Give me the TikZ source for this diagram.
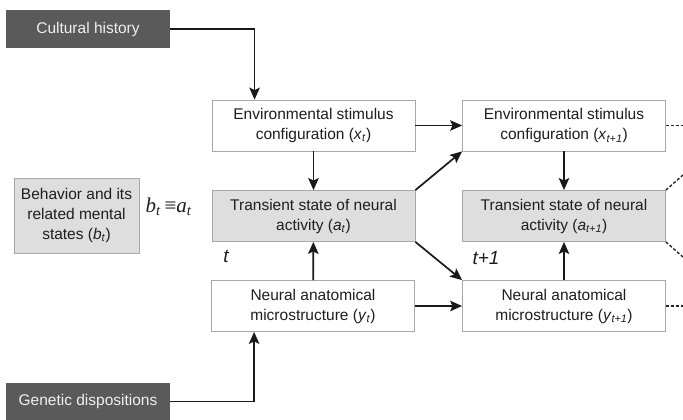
\documentclass[tikz,border=0pt]{standalone}
\usepackage{fontspec}
\setmainfont{Liberation Sans}
\newfontfamily\timesfont{Liberation Serif}
\usetikzlibrary{arrows.meta}

\definecolor{boxline}{HTML}{A8A8A8}
\definecolor{lightfill}{HTML}{DEDEDE}
\definecolor{darkfill}{HTML}{5A5A5A}
\definecolor{txt}{HTML}{1E1E1E}

% italic variable with italic subscript
\newcommand{\vsub}[2]{\textit{#1}\textsubscript{\textit{#2}}}

\begin{document}
\begin{tikzpicture}[x=1pt,y=-1pt,
  box/.style={draw=boxline, line width=0.8pt, fill=white, minimum width=203pt,
    minimum height=51pt, align=center, inner sep=0pt, text=txt,
    font=\fontsize{15.5}{20}\selectfont},
  greybox/.style={box, fill=lightfill},
  darkbox/.style={fill=darkfill, text=white!94!black, minimum width=164pt,
    minimum height=38pt, inner sep=0pt, font=\fontsize{15.5}{20}\selectfont},
  arr/.style={line width=1.7pt, draw=black!90,
    -{Stealth[length=12pt,width=10.5pt,inset=2.5pt]}},
  cont/.style={line width=1.4pt, draw=black!85, dash pattern=on 3pt off 2pt},
  timelabel/.style={font=\fontsize{19}{22}\selectfont\itshape, text=txt}]

\useasboundingbox (0,0) rectangle (683,420);
\fill[white] (0,0) rectangle (683,420);

% external influences
\node[darkbox] (cult) at (88,29) {Cultural history};
\node[darkbox, minimum height=37pt] (gen) at (88,401.5) {Genetic dispositions};

% behaviour
\node[greybox, minimum width=125pt, minimum height=75pt] (beh) at (76.5,215.5)
  {Behavior and its\\related mental\\states (\vsub{b}{t})};
\node[font=\fontsize{21}{24}\selectfont\timesfont\itshape, text=txt, anchor=west]
  (eq) at (142,207) {b\textsubscript{t}\hspace{4pt}{\upshape ≡}a\textsubscript{t}};

% time step t
\node[box] (envt) at (313.5,125.5) {Environmental stimulus\\configuration (\vsub{x}{t})};
\node[greybox] (actt) at (313.5,216) {Transient state of neural\\activity (\vsub{a}{t})};
\node[box] (neut) at (313,306) {Neural anatomical\\microstructure (\vsub{y}{t})};
\node[timelabel] (tl) at (226,256) {t};

% time step t+1
\node[box] (envn) at (564,125.5) {Environmental stimulus\\configuration (\vsub{x}{t+1})};
\node[greybox] (actn) at (564,216) {Transient state of neural\\activity (\vsub{a}{t+1})};
\node[box] (neun) at (564,306) {Neural anatomical\\microstructure (\vsub{y}{t+1})};
\node[timelabel] (tnl) at (486,258) {t+1};

% influences from outside
\draw[arr, line width=1.4pt] (cult.east) -| ([xshift=43pt]envt.north west);
\draw[arr, line width=1.4pt] (gen.east) -| ([xshift=43pt]neut.south west);

% within a time step
\draw[arr] (envt) -- (actt);
\draw[arr] (neut) -- (actt);
\draw[arr] (envn) -- (actn);
\draw[arr] (neun) -- (actn);

% from t to t+1
\draw[arr] (envt) -- (envn);
\draw[arr] (neut) -- (neun);
\draw[arr] (actt.north east) -- (envn.south west);
\draw[arr] (actt.south east) -- (neun.north west);

% continuation beyond t+1
\coordinate (c1) at (683,125.5);
\coordinate (c2) at (683,175);
\coordinate (c3) at (683,257);
\coordinate (c4) at (683,306);
\draw[cont] (envn.east) -- (c1);
\draw[cont] (actn.north east) -- (c2);
\draw[cont] (actn.south east) -- (c3);
\draw[cont] (neun.east) -- (c4);
\end{tikzpicture}
\end{document}
